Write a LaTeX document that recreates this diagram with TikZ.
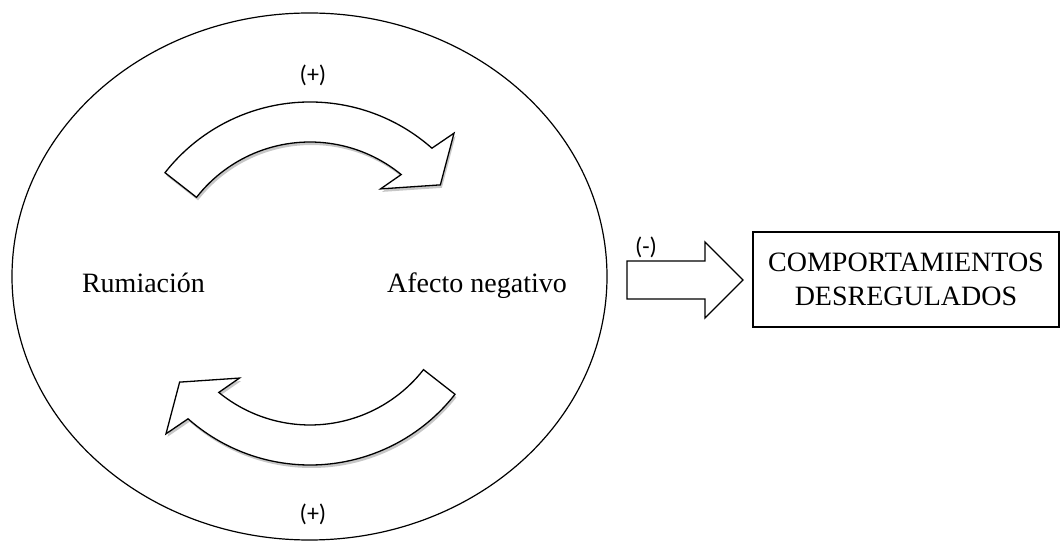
\documentclass[tikz,border=0pt]{standalone}
\usepackage{fontspec}
\setmainfont{Liberation Serif}
\newfontfamily\signfont{Carlito}
\usetikzlibrary{shapes.geometric,shadows}

\begin{document}
\begin{tikzpicture}[x=1pt,y=1pt,
  outline/.style={draw=black, line width=1.2pt},
  bentarrow/.style={draw=black, line width=1.3pt, fill=white, line join=miter,
    drop shadow={shadow xshift=1.5pt, shadow yshift=-3pt, opacity=0.22, fill=black}},
  blockarrow/.style={draw=black, line width=1.3pt, fill=white, line join=miter},
  sign/.style={font=\signfont\fontsize{24}{28}\selectfont, inner sep=0pt},
  term/.style={font=\fontsize{28}{34}\selectfont, inner sep=0pt},
]
\useasboundingbox (0,0) rectangle (1060,543);

% the loop
\node[outline, ellipse, minimum width=595, minimum height=527, inner sep=0pt] (loop) at (309.5,266.5) {};

% upper bent arrow
\begin{scope}[shift={(310,257)}]
  \path[bentarrow] (142:184) arc[start angle=142, end angle=48.5, radius=184]
    -- (46.7:210) -- (37.8:165) -- (54:120) -- (50.7:144)
    arc[start angle=50.7, end angle=142, radius=144] -- cycle;
\end{scope}

% lower bent arrow
\begin{scope}[shift={(310,262)}, rotate=180]
  \path[bentarrow] (142:184) arc[start angle=142, end angle=48.5, radius=184]
    -- (46.7:210) -- (37.8:165) -- (54:120) -- (50.7:144)
    arc[start angle=50.7, end angle=142, radius=144] -- cycle;
\end{scope}

% labels in the loop
\node[sign] (plustop) at (313,468) {(+)};
\node[sign] (plusbot) at (313,29) {(+)};
\node[term, anchor=base] (rum) at (143.5,250) {Rumiación};
\node[term, anchor=base] (afecto) at (477,250) {Afecto negativo};

% outcome box
\node[outline, line width=1.1pt, term, align=center, minimum width=306, minimum height=95]
  (outcome) at (906,263.5) {COMPORTAMIENTOS\\DESREGULADOS};

% block arrow
\path[blockarrow] (627,244) -- (705,244) -- (705,225) -- (743,263) -- (705,301)
  -- (705,282) -- (627,282) -- cycle;
\node[sign] (minus) at (646,296) {(-)};
\end{tikzpicture}
\end{document}
